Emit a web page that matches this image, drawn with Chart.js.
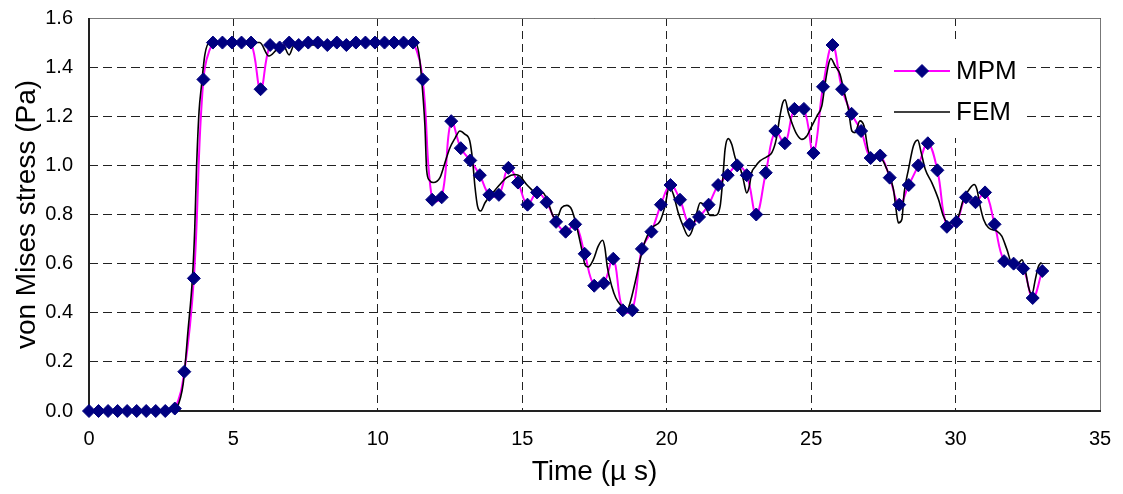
<!DOCTYPE html>
<html>
<head>
<meta charset="utf-8">
<script src="https://cdn.jsdelivr.net/npm/chart.js@4/dist/chart.umd.min.js"></script>
<style>
  html, body { margin: 0; padding: 0; background: #fff; }
  #wrap { width: 1123px; height: 494px; }
</style>
</head>
<body>
<div id="wrap"><canvas id="c" width="1123" height="494"></canvas></div>
<script>
// Sample times of the MPM solution (µs)
const mpmTime = [
  0, 0.33, 0.66, 0.99, 1.32, 1.65, 1.98, 2.31, 2.64, 2.97,
  3.3, 3.63, 3.96, 4.29, 4.62, 4.95, 5.28, 5.61, 5.94, 6.27,
  6.6, 6.93, 7.26, 7.59, 7.92, 8.25, 8.58, 8.91, 9.24, 9.57,
  9.9, 10.23, 10.56, 10.89, 11.22, 11.55, 11.88, 12.21, 12.54, 12.87,
  13.2, 13.53, 13.86, 14.19, 14.52, 14.85, 15.18, 15.51, 15.84, 16.17,
  16.5, 16.83, 17.16, 17.49, 17.82, 18.15, 18.48, 18.81, 19.14, 19.47,
  19.8, 20.13, 20.46, 20.79, 21.12, 21.45, 21.78, 22.11, 22.44, 22.77,
  23.1, 23.43, 23.76, 24.09, 24.42, 24.75, 25.08, 25.41, 25.74, 26.07,
  26.4, 26.73, 27.06, 27.39, 27.72, 28.05, 28.38, 28.71, 29.04, 29.37,
  29.7, 30.03, 30.36, 30.69, 31.02, 31.35, 31.68, 32.01, 32.34, 32.67,
  33.0
];
// von Mises stress from MPM (Pa)
const mpmStress = [
  0, 0, 0, 0, 0, 0, 0, 0, 0, 0.01,
  0.16, 0.54, 1.35, 1.50, 1.50, 1.50, 1.50, 1.50, 1.31, 1.49,
  1.48, 1.50, 1.49, 1.50, 1.50, 1.49, 1.50, 1.49, 1.50, 1.50,
  1.50, 1.50, 1.50, 1.50, 1.50, 1.35, 0.86, 0.87, 1.18, 1.07,
  1.02, 0.96, 0.88, 0.88, 0.99, 0.93, 0.84, 0.89, 0.85, 0.77,
  0.73, 0.76, 0.64, 0.51, 0.52, 0.62, 0.41, 0.41, 0.66, 0.73,
  0.84, 0.92, 0.86, 0.76, 0.79, 0.84, 0.92, 0.96, 1.00, 0.96,
  0.80, 0.97, 1.14, 1.09, 1.23, 1.23, 1.05, 1.32, 1.49, 1.31,
  1.21, 1.14, 1.03, 1.04, 0.95, 0.84, 0.92, 1.00, 1.09, 0.98,
  0.75, 0.77, 0.87, 0.85, 0.89, 0.76, 0.61, 0.60, 0.58, 0.46,
  0.57
];
// FEM reference solution: time (µs) and von Mises stress (Pa)
const femTime = [
  0, 2.9, 3.03, 3.26, 3.43, 3.58, 3.66, 3.72, 3.81, 3.89,
  4.01, 4.18, 5.6, 5.91, 6.23, 6.49, 6.72, 6.93, 7.09, 7.6,
  8.6, 9.6, 11.3, 11.45, 11.57, 11.63, 11.69, 11.78, 11.92, 12.15,
  12.32, 12.49, 12.67, 12.84, 13.01, 13.18, 13.28, 13.36, 13.45, 13.56,
  13.71, 13.94, 14.17, 14.46, 14.75, 14.92, 15.15, 15.38, 15.5, 15.7,
  15.9, 16.07, 16.19, 16.36, 16.54, 16.71, 16.88, 17.06, 17.17, 17.28,
  17.46, 17.63, 17.78, 17.86, 17.94, 18.1, 18.24, 18.44, 18.61, 18.73,
  18.9, 19.08, 19.25, 19.48, 19.77, 19.94, 20.09, 20.23, 20.4, 20.57,
  20.75, 20.87, 21.04, 21.16, 21.33, 21.5, 21.67, 21.85, 21.94, 22.02,
  22.13, 22.25, 22.37, 22.54, 22.65, 22.77, 22.86, 22.94, 23.06, 23.23,
  23.46, 23.64, 23.79, 23.92, 24.02, 24.1, 24.21, 24.33, 24.5, 24.68,
  24.85, 25.02, 25.2, 25.37, 25.48, 25.6, 25.68, 25.83, 26.0, 26.12,
  26.29, 26.41, 26.52, 26.69, 26.83, 26.98, 27.16, 27.39, 27.62, 27.85,
  27.94, 28.02, 28.14, 28.22, 28.37, 28.54, 28.69, 28.81, 28.95, 29.18,
  29.41, 29.58, 29.75, 29.93, 30.1, 30.27, 30.51, 30.64, 30.74, 30.85,
  30.97, 31.14, 31.43, 31.6, 31.78, 31.95, 32.18, 32.3, 32.41, 32.52,
  32.64, 32.76, 32.87, 32.97
];
const femStress = [
  0, 0, 0.01, 0.11, 0.33, 0.54, 0.74, 0.98, 1.22, 1.32,
  1.45, 1.50, 1.50, 1.50, 1.445, 1.47, 1.49, 1.45, 1.487, 1.49,
  1.49, 1.50, 1.50, 1.43, 1.27, 1.16, 0.98, 0.94, 0.93, 0.95,
  1.01, 1.07, 1.11, 1.14, 1.127, 1.10, 1.02, 0.915, 0.834, 0.814,
  0.848, 0.882, 0.915, 0.95, 0.963, 0.956, 0.922, 0.895, 0.88, 0.89,
  0.848, 0.793, 0.786, 0.827, 0.837, 0.82, 0.752, 0.657, 0.596, 0.586,
  0.616, 0.671, 0.695, 0.664, 0.589, 0.507, 0.46, 0.426, 0.405, 0.44,
  0.52, 0.616, 0.691, 0.745, 0.773, 0.834, 0.913, 0.882, 0.807, 0.752,
  0.712, 0.732, 0.807, 0.848, 0.834, 0.796, 0.796, 0.834, 0.943, 1.065,
  1.109, 1.086, 1.031, 0.99, 0.943, 0.888, 0.915, 0.97, 0.994, 1.018,
  1.035, 1.052, 1.106, 1.201, 1.256, 1.267, 1.215, 1.174, 1.127, 1.106,
  1.12, 1.16, 1.201, 1.242, 1.33, 1.41, 1.435, 1.405, 1.371, 1.31,
  1.229, 1.14, 1.133, 1.181, 1.16, 1.059, 1.031, 1.031, 0.984, 0.902,
  0.82, 0.766, 0.78, 0.888, 0.984, 1.079, 1.103, 1.052, 0.984, 0.929,
  0.861, 0.793, 0.766, 0.766, 0.793, 0.861, 0.909, 0.922, 0.902, 0.834,
  0.78, 0.746, 0.732, 0.712, 0.657, 0.603, 0.603, 0.616, 0.576, 0.507,
  0.473, 0.535, 0.589, 0.605
];
// Axis ticks
const xTicks = [0, 5, 10, 15, 20, 25, 30, 35];
const yTicks = [0.0, 0.2, 0.4, 0.6, 0.8, 1.0, 1.2, 1.4, 1.6];

const FONT = "'Liberation Sans', Arial, Helvetica, sans-serif";
const MPM_LINE = '#ff00ff';
const MPM_MARK = '#000080';
const FEM_LINE = '#000000';

const pairs = (xs, ys) => xs.map((x, i) => ({ x: x, y: ys[i] }));
const mpmPoints = pairs(mpmTime, mpmStress);
const femPoints = pairs(femTime, femStress);

// Solid frame around the plot: heavy left/bottom axes, light top/right edges
const framePlugin = {
  id: 'frame',
  beforeDatasetsDraw(chart) {
    const { ctx, chartArea: a } = chart;
    ctx.save();
    ctx.setLineDash([]);
    ctx.strokeStyle = '#777';
    ctx.lineWidth = 1;
    ctx.beginPath();
    ctx.moveTo(a.left, a.top + 0.5);
    ctx.lineTo(a.right + 0.5, a.top + 0.5);
    ctx.lineTo(a.right + 0.5, a.bottom);
    ctx.stroke();
    ctx.strokeStyle = '#222';
    ctx.lineWidth = 2;
    ctx.beginPath();
    ctx.moveTo(a.left, a.top);
    ctx.lineTo(a.left, a.bottom);
    ctx.lineTo(a.right + 1, a.bottom);
    ctx.stroke();
    ctx.restore();
  }
};

// Legend box inside the plot, upper right
const legendPlugin = {
  id: 'insideLegend',
  beforeDatasetsDraw(chart) {
    const { ctx } = chart;
    const ds = chart.data.datasets;
    const box = { x: 884, y: 44, w: 140, h: 94 };
    ctx.save();
    ctx.fillStyle = '#fff';
    ctx.fillRect(box.x, box.y, box.w, box.h);
    const entries = [
      { line: ds[0], marker: ds[2], y: 71 },
      { line: ds[1], marker: null, y: 112 }
    ];
    const x0 = 894, x1 = 950;
    ctx.font = '26px ' + FONT;
    ctx.textBaseline = 'middle';
    ctx.textAlign = 'left';
    for (const e of entries) {
      ctx.setLineDash([]);
      ctx.strokeStyle = e.line.borderColor;
      ctx.lineWidth = e.line.borderWidth;
      ctx.beginPath();
      ctx.moveTo(x0, e.y);
      ctx.lineTo(x1, e.y);
      ctx.stroke();
      if (e.marker) {
        const r = e.marker.pointRadius, cx = (x0 + x1) / 2;
        ctx.fillStyle = e.marker.pointBackgroundColor;
        ctx.strokeStyle = e.marker.pointBorderColor;
        ctx.lineWidth = e.marker.pointBorderWidth;
        ctx.beginPath();
        ctx.moveTo(cx, e.y - r); ctx.lineTo(cx + r, e.y);
        ctx.lineTo(cx, e.y + r); ctx.lineTo(cx - r, e.y); ctx.closePath();
        ctx.fill(); ctx.stroke();
      }
      ctx.fillStyle = '#000';
      ctx.fillText(e.line.label, 956, e.y + 1);
    }
    ctx.restore();
  }
};

new Chart(document.getElementById('c'), {
  type: 'line',
  data: {
    datasets: [
      {
        label: 'MPM',
        data: mpmPoints,
        borderColor: MPM_LINE,
        borderWidth: 2,
        pointRadius: 0,
        tension: 0.4,
        fill: false,
        order: 3
      },
      {
        label: 'FEM',
        data: femPoints,
        borderColor: FEM_LINE,
        borderWidth: 1.6,
        pointRadius: 0,
        cubicInterpolationMode: 'monotone',
        fill: false,
        order: 2
      },
      {
        label: 'MPM markers',
        data: mpmPoints,
        showLine: false,
        pointStyle: 'rectRot',
        pointRadius: 6.5,
        pointBackgroundColor: MPM_MARK,
        pointBorderColor: MPM_MARK,
        pointBorderWidth: 1,
        clip: false,
        order: 1
      }
    ]
  },
  options: {
    responsive: false,
    animation: false,
    devicePixelRatio: 1,
    layout: { padding: { left: 0, right: 23, top: 18, bottom: 0 } },
    plugins: { legend: { display: false }, tooltip: { enabled: false } },
    scales: {
      x: {
        type: 'linear',
        min: 0,
        max: 35,
        afterBuildTicks: (s) => { s.ticks = xTicks.map(v => ({ value: v })); },
        afterFit: (s) => { s.height = 83; s.paddingLeft = 0; s.paddingRight = 0; },
        grid: { color: '#222', lineWidth: 1, drawTicks: false },
        border: { display: false, dash: [8, 5] },
        ticks: { color: '#000', padding: 16, maxRotation: 0, font: { family: FONT, size: 20 } },
        title: {
          display: true, text: 'Time (µ s)', color: '#000',
          font: { family: FONT, size: 28 }, padding: { top: 0, bottom: 5 }
        }
      },
      y: {
        min: 0,
        max: 1.6,
        afterBuildTicks: (s) => { s.ticks = yTicks.map(v => ({ value: v })); },
        afterFit: (s) => { s.width = 89; s.paddingTop = 0; s.paddingBottom = 0; },
        grid: { color: '#222', lineWidth: 1, drawTicks: false },
        border: { display: false, dash: [9, 5] },
        ticks: {
          color: '#000', padding: 16, font: { family: FONT, size: 20 },
          callback: (v) => Number(v).toFixed(1)
        },
        title: {
          display: true, text: 'von Mises stress (Pa)', color: '#000',
          font: { family: FONT, size: 28 }, padding: { top: 10, bottom: 0 }
        }
      }
    }
  },
  plugins: [framePlugin, legendPlugin]
});
</script>
</body>
</html>
